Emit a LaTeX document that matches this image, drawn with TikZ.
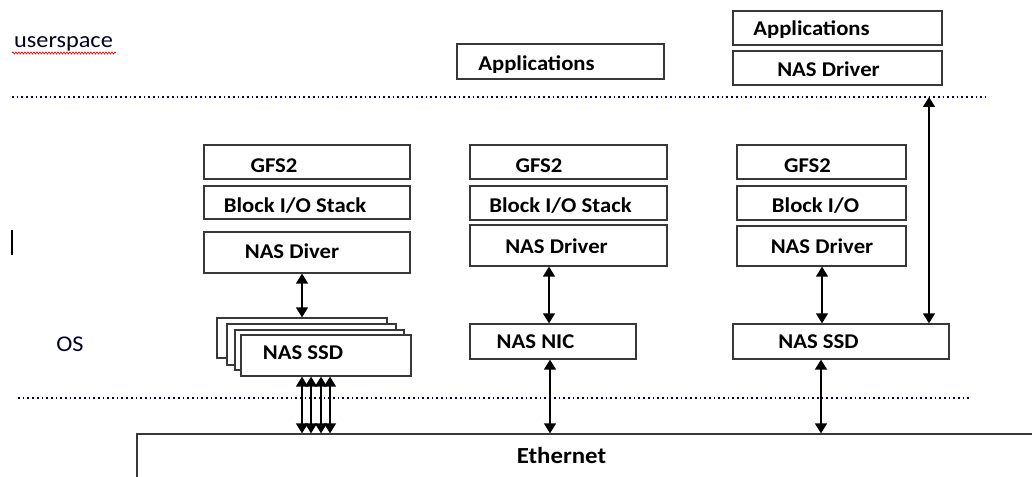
\documentclass[tikz,border=0pt]{standalone}
\usepackage{fontspec}
\setmainfont{Carlito}[FakeStretch=1.08]
\usetikzlibrary{arrows.meta,decorations.pathmorphing}
\tikzset{
  box/.style={draw=black!78, line width=1.3pt, fill=white, inner sep=0pt, rectangle},
  lab/.style={font=\fontsize{21}{24}\selectfont\bfseries, inner sep=0pt, anchor=base, text=black},
  side/.style={font=\fontsize{22.5}{24}\selectfont, inner sep=0pt, anchor=base, text=black!85!blue},
  dbl/.style={line width=1.4pt, {Triangle[width=12pt,length=10pt]}-{Triangle[width=12pt,length=10pt]}},
  sep/.style={line width=1.7pt, dash pattern=on 1.7pt off 3pt, color=black!70!blue},
}
\begin{document}
\begin{tikzpicture}[x=1pt,y=-1pt]
\clip (0,0) rectangle (1032,476);
\fill[white] (0,0) rectangle (1032,476);

% separators
\coordinate (ua) at (12,97);
\coordinate (ub) at (985,97);
\coordinate (la) at (18,398);
\coordinate (lb) at (972,398);
\draw[sep] (ua) -- (ub);
\draw[sep] (la) -- (lb);

% side labels
\node[side] (us) at (63.5,48) {userspace};
\draw[red, line width=0.7pt, decorate, decoration={snake, amplitude=1pt, segment length=3pt}] (12,53) -- (116,53);
\node[side] (os) at (70,351) {OS};
\draw[line width=2pt] (12,230) -- (12,255);

% column 1
\node[box, minimum width=206pt, minimum height=34pt] (g1) at (307,162) {};
\node[box, minimum width=206pt, minimum height=33pt] (b1) at (307,202.5) {};
\node[box, minimum width=206pt, minimum height=41pt] (d1) at (307,252.5) {};
\node[lab] (g1t) at (274,172) {GFS2};
\node[lab] (b1t) at (295,212) {Block I/O Stack};
\node[lab] (d1t) at (292,258) {NAS Diver};

\node[box, minimum width=170pt, minimum height=40pt] (s1a) at (302,338) {};
\node[box, minimum width=169pt, minimum height=41pt] (s1b) at (311.5,344.5) {};
\node[box, minimum width=169pt, minimum height=40pt] (s1c) at (319.5,350) {};
\node[box, minimum width=170pt, minimum height=41pt] (s1) at (326,355.5) {};
\node[lab] (s1t) at (303,359) {NAS SSD};

% column 2
\node[box, minimum width=207pt, minimum height=35pt] (a2) at (560.5,61.5) {};
\begin{scope}
  \clip (450,40) rectangle (670,72.5);
  \node[lab] (a2t) at (536.5,71) {Applications};
\end{scope}
\node[box, minimum width=197pt, minimum height=34pt] (g2) at (568.5,162) {};
\node[box, minimum width=197pt, minimum height=34pt] (b2) at (568.5,203) {};
\node[box, minimum width=197pt, minimum height=41pt] (d2) at (568.5,245.5) {};
\node[lab] (g2t) at (539,172) {GFS2};
\node[lab] (b2t) at (560.5,212) {Block I/O Stack};
\node[lab] (d2t) at (556.5,253) {NAS Driver};
\node[box, minimum width=166pt, minimum height=35pt] (n2) at (553,341.5) {};
\node[lab] (n2t) at (535.5,348) {NAS NIC};

% column 3
\node[box, minimum width=209pt, minimum height=34pt] (a3) at (837.5,28) {};
\begin{scope}
  \clip (725,5) rectangle (950,37.5);
  \node[lab] (a3t) at (811.5,36) {Applications};
\end{scope}
\node[box, minimum width=209pt, minimum height=34pt] (u3) at (837.5,68) {};
\node[lab] (u3t) at (828.5,77) {NAS Driver};
\node[box, minimum width=169pt, minimum height=34pt] (g3) at (821.5,162) {};
\node[box, minimum width=169pt, minimum height=34pt] (b3) at (821.5,203) {};
\node[box, minimum width=169pt, minimum height=40pt] (d3) at (821.5,246) {};
\node[lab] (g3t) at (807.5,172) {GFS2};
\node[lab] (b3t) at (815.5,212) {Block I/O};
\node[lab] (d3t) at (822,253) {NAS Driver};
\node[box, minimum width=216pt, minimum height=35pt] (s3) at (841,341.5) {};
\node[lab] (s3t) at (818.5,348) {NAS SSD};

% ethernet
\node[box, minimum width=903pt, minimum height=66pt] (eth) at (588.5,467) {};
\node[lab, font=\fontsize{23}{24}\selectfont\bfseries] (etht) at (561.5,463) {Ethernet};

% connectors
\draw[dbl] (s1a.north) -- (s1a.north |- d1.south);
\foreach \dx in {-24,-15,-5,4}
  \draw[dbl] ([xshift=\dx pt]s1.south) -- ([xshift=\dx pt]s1.south |- eth.north);
\draw[dbl] ([xshift=-4pt]n2.north) -- ([xshift=-4pt]n2.north |- d2.south);
\draw[dbl] ([xshift=-3pt]n2.south) -- ([xshift=-3pt]n2.south |- eth.north);
\draw[dbl] ([xshift=-19pt]s3.north) -- ([xshift=-19pt]s3.north |- d3.south);
\draw[dbl] ([xshift=-20pt]s3.south) -- ([xshift=-20pt]s3.south |- eth.north);
\draw[dbl] ([xshift=88pt]s3.north) -- ([xshift=88pt]s3.north |- ua);
\end{tikzpicture}
\end{document}
